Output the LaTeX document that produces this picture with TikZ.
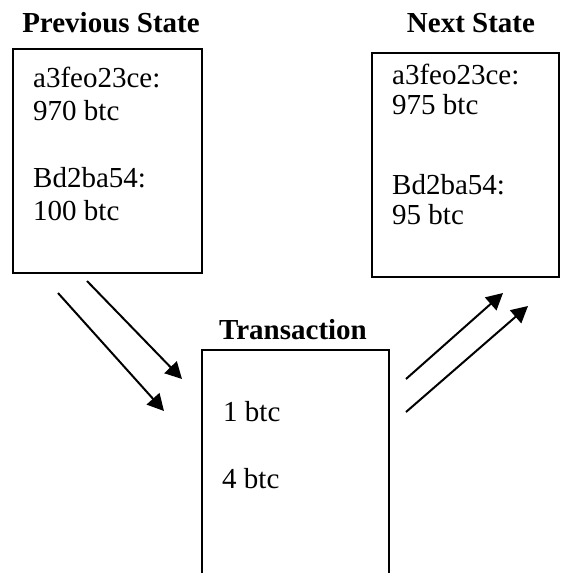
\documentclass[tikz,border=0pt]{standalone}
\usepackage{fontspec}
\setmainfont{Liberation Serif}
\usetikzlibrary{arrows.meta}
\begin{document}
\begin{tikzpicture}[x=1pt,y=-1pt,
  statebox/.style={draw, line width=1.4pt, rectangle, inner sep=0pt},
  heading/.style={font=\fontsize{29}{33}\selectfont\bfseries, anchor=base, inner sep=0pt},
  entry/.style={font=\fontsize{29}{33}\selectfont, anchor=base west, inner sep=0pt},
  flow/.style={line width=2pt, -{Triangle[length=16.5pt,width=17pt]}}]
\clip (0,0) rectangle (560,573);

% boxes
\node[statebox, minimum width=189pt, minimum height=224pt] (prev) at (107.5,161) {};
\node[statebox, minimum width=187pt, minimum height=224pt] (next) at (465.5,165) {};
\node[statebox, minimum width=187pt, minimum height=250pt] (tx) at (295.5,475) {};

% headings
\node[heading] (prevtitle) at (111,32) {Previous State};
\node[heading] (nexttitle) at (471,32) {Next State};
\node[heading] (txtitle) at (293,339) {Transaction};

% previous balances
\node[entry] (p1) at (33,87) {a3feo23ce:};
\node[entry] (p2) at (33,120) {970 btc};
\node[entry] (p3) at (33,187) {Bd2ba54:};
\node[entry] (p4) at (33,220) {100 btc};

% next balances
\node[entry] (n1) at (392,84) {a3feo23ce:};
\node[entry] (n2) at (392,114) {975 btc};
\node[entry] (n3) at (392,194) {Bd2ba54:};
\node[entry] (n4) at (392,224) {95 btc};

% transferred amounts
\node[entry] (t1) at (223,421) {1 btc};
\node[entry] (t2) at (222,488) {4 btc};

% arrow end points
\coordinate (inAs) at (87,281);
\coordinate (inAe) at (182,379);
\coordinate (inBs) at (58,293);
\coordinate (inBe) at (164,411);
\coordinate (outAs) at (406,379);
\coordinate (outAe) at (503,293);
\coordinate (outBs) at (406,412);
\coordinate (outBe) at (528,306);

\draw[flow] (inAs) -- (inAe);
\draw[flow] (inBs) -- (inBe);
\draw[flow] (outAs) -- (outAe);
\draw[flow] (outBs) -- (outBe);
\end{tikzpicture}
\end{document}
